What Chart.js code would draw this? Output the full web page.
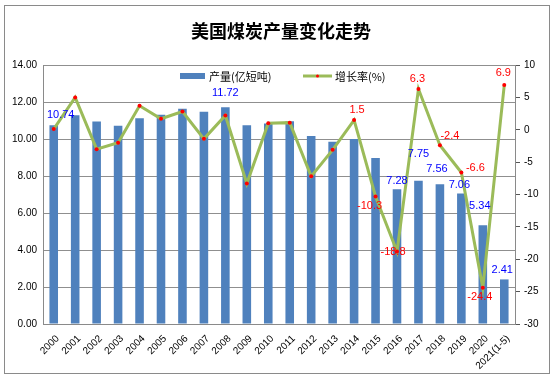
<!DOCTYPE html>
<html><head><meta charset="utf-8">
<script src="https://cdn.jsdelivr.net/npm/chart.js@4/dist/chart.umd.min.js"></script>
<style>html,body{margin:0;padding:0;background:#fff;}#wrap{width:559px;height:381px;position:relative;}</style>
</head><body><div id="wrap"><canvas id="c" width="559" height="381"></canvas></div>
<script>
const title = '美国煤炭产量变化走势';
const categories = ['2000','2001','2002','2003','2004','2005','2006','2007','2008','2009','2010','2011','2012','2013','2014','2015','2016','2017','2018','2019','2020','2021(1-5)'];
const production = [10.74,11.28,10.94,10.72,11.12,11.31,11.63,11.47,11.72,10.75,10.84,10.96,10.16,9.85,10.00,8.97,7.28,7.75,7.56,7.06,5.34,2.41];
const growth = [0.1,5.0,-3.0,-2.0,3.7,1.7,2.8,-1.4,2.2,-8.3,1.0,1.1,-7.2,-3.1,1.5,-10.3,-18.8,6.3,-2.4,-6.6,-24.4,6.9];
const prodLabelIdx = [0,8,16,17,18,19,20,21];
const growthLabelIdx = [14,15,16,17,18,19,20,21];
const leftTicks = {min:0,max:14,step:2};
const rightTicks = {min:-30,max:10,step:5};
const seriesNames = ['产量(亿短吨)','增长率(%)'];

// label placement style (pixel offsets, not data)
const prodLabelDy = {0:-10,8:-14,16:-8,17:-27,18:-15,19:-8,20:-19,21:-9};
const prodLabelDx = {0:7,18:-3,19:-2,20:-3,21:-2};
const growthLabelOff = {14:[3,-10],15:[-6,10],16:[-4,0],17:[-1,-10],18:[10,-9],19:[14,-5],20:[-3,9],21:[-1,-12]};

const BAR='#4F81BD', LINE='#9BBB59';
const FONT='"Liberation Sans", Arial, sans-serif';

const deco = {
  id:'deco',
  beforeDraw(chart){
    const ctx=chart.ctx;
    ctx.save();
    ctx.fillStyle='#fff';ctx.fillRect(0,0,559,381);
    ctx.strokeStyle='#8a8a8a';ctx.lineWidth=1;
    ctx.strokeRect(4.5,5.5,545,368);
    ctx.fillStyle='#000';
    ctx.font='bold 18px "Noto Sans CJK SC", sans-serif';
    ctx.textAlign='center';ctx.textBaseline='middle';
    ctx.fillText(title,281,31);
    ctx.restore();
  },
  afterDraw(chart){
    const ctx=chart.ctx;
    ctx.save();
    // x-axis category labels at 45 degrees
    const xs=chart.scales.x;
    ctx.fillStyle='#000';
    ctx.font='10px '+FONT;
    ctx.textAlign='right';ctx.textBaseline='middle';
    categories.forEach((c,i)=>{
      const x=xs.getPixelForValue(i);
      ctx.save();
      ctx.translate(x+4,xs.top+13);
      ctx.rotate(-Math.PI/4);
      ctx.fillText(c,0,0);
      ctx.restore();
    });
    ctx.font='11px '+FONT;
    ctx.textAlign='center';ctx.textBaseline='middle';
    const bm=chart.getDatasetMeta(0).data;
    ctx.fillStyle='#0000FF';
    prodLabelIdx.forEach(i=>{
      const el=bm[i];
      ctx.fillText(production[i].toFixed(2),el.x+(prodLabelDx[i]||0),el.y+(prodLabelDy[i]||-10));
    });
    const lm=chart.getDatasetMeta(1).data;
    ctx.fillStyle='#FF0000';
    growthLabelIdx.forEach(i=>{
      const el=lm[i];const o=growthLabelOff[i]||[0,-10];
      ctx.fillText(String(growth[i]),el.x+o[0],el.y+o[1]);
    });
    // legend
    ctx.fillStyle=BAR;
    ctx.fillRect(180,73,25,6);
    ctx.fillStyle='#000';ctx.textAlign='left';
    ctx.font='11px "Noto Sans CJK SC", '+FONT;
    ctx.fillText(seriesNames[0],209,76.5);
    ctx.strokeStyle=LINE;ctx.lineWidth=3;
    ctx.beginPath();ctx.moveTo(303,76);ctx.lineTo(332,76);ctx.stroke();
    ctx.fillStyle='#FF0000';ctx.beginPath();ctx.arc(317.5,76,1.5,0,Math.PI*2);ctx.fill();
    ctx.fillStyle='#000';
    ctx.fillText(seriesNames[1],335,76.5);
    ctx.restore();
  }
};

new Chart(document.getElementById('c'),{
  type:'bar',
  data:{labels:categories,datasets:[
    {type:'bar',label:seriesNames[0],data:production,backgroundColor:BAR,yAxisID:'y',order:2,barPercentage:0.4,categoryPercentage:1},
    {type:'line',label:seriesNames[1],data:growth,borderColor:LINE,borderWidth:3,yAxisID:'y1',order:1,
     pointRadius:2,pointBackgroundColor:'#FF0000',pointBorderColor:'#C0504D',pointBorderWidth:0,tension:0,fill:false}
  ]},
  options:{
    responsive:false,animation:false,
    layout:{padding:{top:65,left:0,right:0,bottom:0}},
    plugins:{legend:{display:false},title:{display:false},tooltip:{enabled:false}},
    scales:{
      x:{grid:{display:false,drawTicks:false},border:{display:true,color:'#8a8a8a'},
         ticks:{display:false},
         afterFit(s){s.height=57;}},
      y:{position:'left',min:leftTicks.min,max:leftTicks.max,
         ticks:{stepSize:leftTicks.step,color:'#000',font:{size:10,family:FONT},padding:6,callback:v=>Number(v).toFixed(2)},
         grid:{color:'#8f8f8f',drawTicks:false},border:{color:'#8a8a8a'},
         afterFit(s){s.width=43;}},
      y1:{position:'right',min:rightTicks.min,max:rightTicks.max,
         ticks:{stepSize:rightTicks.step,color:'#000',font:{size:10,family:FONT},padding:4},
         grid:{drawOnChartArea:false,color:'#555',tickLength:5},border:{color:'#8a8a8a'},
         afterFit(s){s.width=44;}}
    }
  },
  plugins:[deco]
});
</script></body></html>
